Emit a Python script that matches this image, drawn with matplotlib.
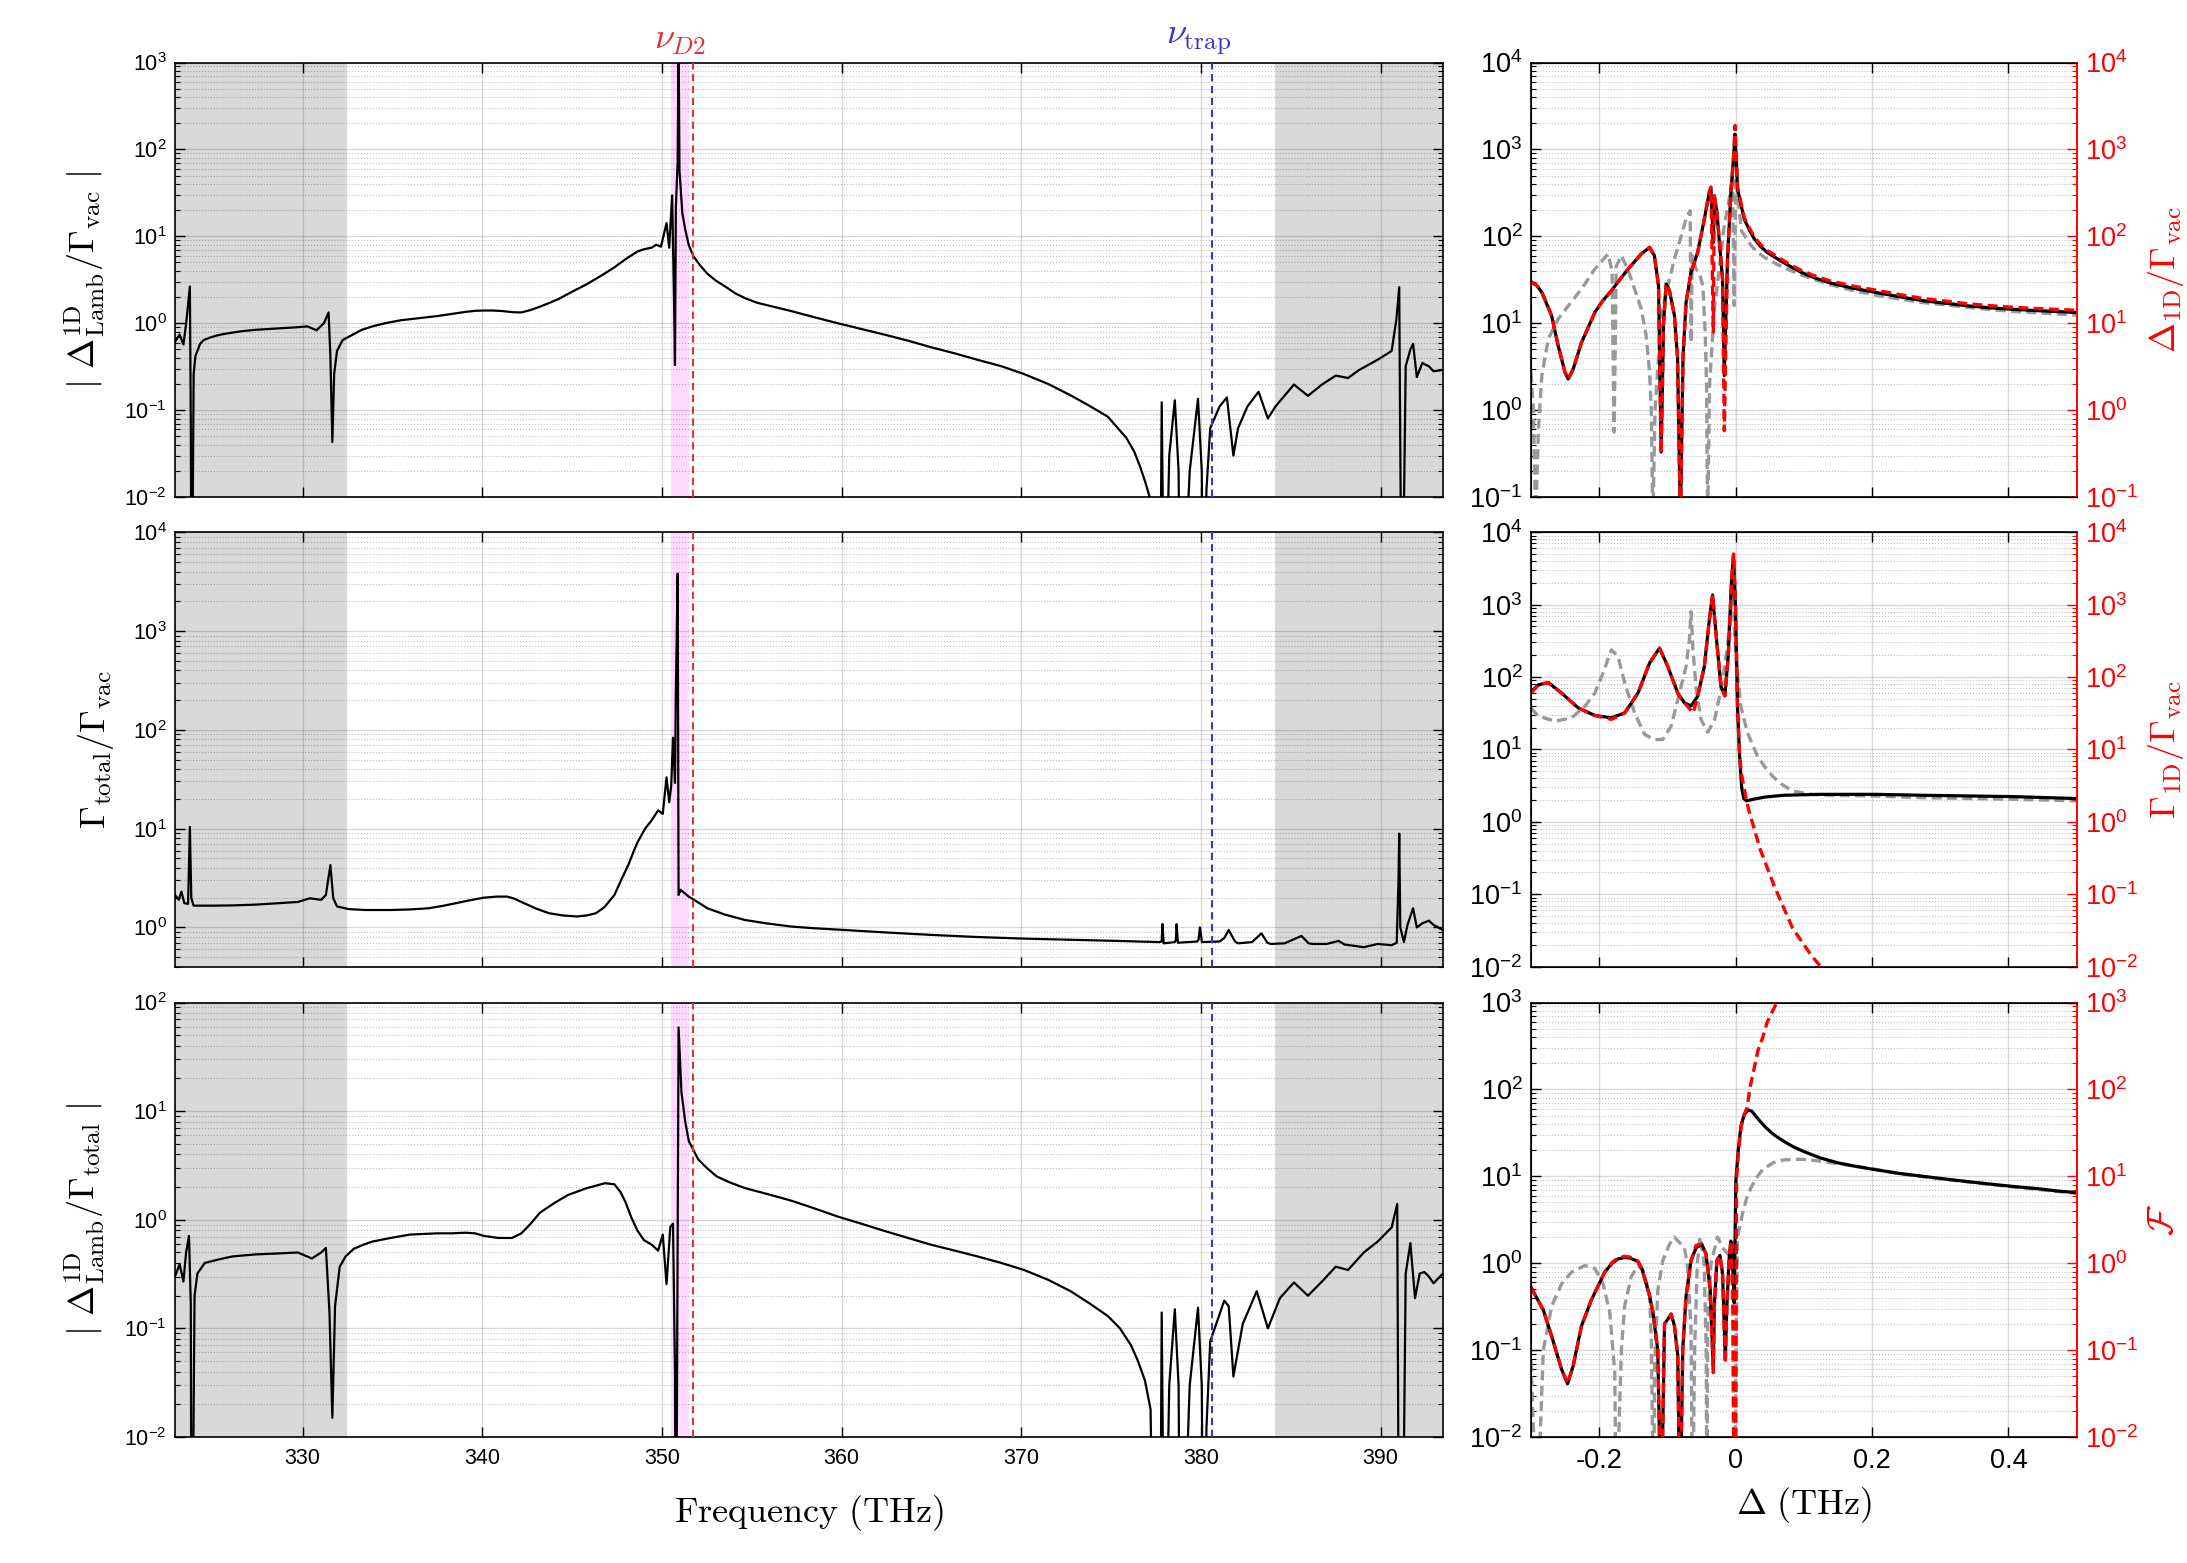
import numpy as np
import matplotlib
matplotlib.use('Agg')
import matplotlib.pyplot as plt
from matplotlib.ticker import LogLocator, NullFormatter
from matplotlib.transforms import blended_transform_factory

plt.rcParams['font.family'] = ['Liberation Sans', 'DejaVu Sans']
plt.rcParams['mathtext.fontset'] = 'cm'
plt.rcParams['axes.unicode_minus'] = False

# ---------------- left column: frequency scans (THz) ----------------
freq_lim = [322.9, 393.5]
freq_ticks = [330, 340, 350, 360, 370, 380, 390]
band_gap = [332.5, 384.1]          # outside this range the band is shaded grey
pink_band = [350.5, 351.5]
nu_d2 = 351.72
nu_trap = 380.6

freq_top = [322.9, 323.16, 323.37, 323.52, 323.73, 323.78, 323.83, 323.94, 324.04, 324.30,
            324.5, 324.82, 325.2, 325.6, 326.1, 326.63, 327.4, 328.19, 329.0, 329.74,
            330.26, 330.78, 331.19, 331.45, 331.55, 331.66, 331.76, 331.92, 332.23, 332.85,
            333.3, 333.89, 334.6, 335.44, 336.4, 337.51, 338.3, 339.07, 339.6, 340.10,
            340.6, 341.14, 341.7, 342.18, 342.7, 343.21, 343.7, 344.25, 345.0, 345.80,
            346.6, 347.36, 348.0, 348.65, 349.0, 349.43, 349.69, 349.95, 350.26, 350.41,
            350.57, 350.67, 350.73, 350.78, 350.88, 350.93, 350.98, 351.14, 351.3, 351.50,
            351.76, 352.1, 352.54, 353.0, 353.58, 354.1, 354.61, 355.3, 356.2, 357.2,
            358.5, 359.79, 361.1, 362.38, 363.7, 364.97, 366.3, 367.56, 368.9, 370.16,
            371.5, 372.75, 373.8, 374.82, 375.85, 376.3, 376.63, 376.9, 377.15, 377.41,
            377.72, 377.82, 377.98, 378.24, 378.55, 378.76, 378.86, 379.38, 379.84, 380.05,
            380.16, 380.31, 380.52, 381.04, 381.45, 381.81, 382.07, 382.59, 383.21, 383.73,
            384.15, 385.18, 385.96, 386.74, 387.51, 388.19, 388.81, 389.84, 390.62, 390.88,
            391.04, 391.09, 391.19, 391.40, 391.66, 391.81, 392.02, 392.33, 392.54, 392.69,
            392.95, 393.47]
lamb_vac = [0.61, 0.74, 0.57, 0.98, 2.65, 0.076, 1e-4, 0.26, 0.42, 0.58,
            0.64, 0.68, 0.72, 0.75, 0.78, 0.81, 0.84, 0.86, 0.88, 0.9,
            0.92, 0.83, 1.0, 1.33, 0.42, 0.043, 0.26, 0.48, 0.64, 0.75,
            0.84, 0.92, 1.0, 1.08, 1.14, 1.21, 1.28, 1.35, 1.39, 1.40,
            1.40, 1.38, 1.34, 1.33, 1.42, 1.55, 1.7, 1.9, 2.3, 2.8,
            3.5, 4.4, 5.5, 6.7, 7.1, 7.4, 8.0, 7.6, 14.2, 7.4,
            29.6, 2.3, 0.33, 22, 73, 2000, 57, 18.5, 12, 7.9,
            5.9, 4.7, 3.7, 3.1, 2.6, 2.2, 1.95, 1.72, 1.55, 1.38,
            1.17, 1.0, 0.86, 0.74, 0.63, 0.53, 0.45, 0.38, 0.32, 0.26,
            0.2, 0.148, 0.112, 0.084, 0.048, 0.033, 0.022, 0.015, 0.01, 1e-4,
            1e-4, 0.123, 1e-4, 0.03, 0.13, 0.02, 1e-4, 0.02, 0.135, 0.02,
            1e-4, 0.012, 0.062, 0.11, 0.14, 0.03, 0.062, 0.11, 0.163, 0.08,
            0.11, 0.197, 0.146, 0.197, 0.25, 0.234, 0.29, 0.38, 0.48, 1.1,
            2.6, 0.068, 1e-4, 0.32, 0.5, 0.58, 0.24, 0.35, 0.33, 0.32,
            0.28, 0.29]

freq_mid = [322.90, 323.11, 323.26, 323.42, 323.63, 323.73, 323.81, 323.94, 325.0, 326.11,
            327.4, 328.70, 329.74, 330.41, 331.04, 331.30, 331.55, 331.71, 331.92, 332.59,
            333.5, 334.92, 336.0, 336.99, 337.8, 338.55, 339.3, 340.10, 340.8, 341.40,
            341.8, 342.18, 343.0, 343.73, 344.5, 345.28, 345.8, 346.32, 346.8, 347.36,
            347.8, 348.13, 348.4, 348.65, 349.07, 349.43, 349.79, 350.05, 350.26, 350.41,
            350.52, 350.62, 350.73, 350.78, 350.88, 350.93, 351.04, 351.5, 352.0, 352.54,
            353.5, 354.61, 355.8, 357.20, 358.5, 359.79, 362.4, 364.97, 367.5, 370.16,
            372.7, 375.34, 377.67, 377.82, 377.86, 377.93, 378.55, 378.61, 378.65, 378.72,
            379.80, 379.87, 379.95, 380.06, 381.04, 381.30, 381.55, 381.90, 382.07, 382.85,
            383.37, 383.70, 383.89, 384.66, 385.60, 386.00, 386.22, 387.00, 387.67, 388.00,
            388.29, 389.07, 389.84, 390.62, 390.90, 391.00, 391.04, 391.10, 391.30, 391.50,
            391.81, 392.02, 392.33, 392.69, 392.95, 393.47]
gamma_total = [2.13, 1.9, 2.3, 1.76, 1.73, 10.4, 1.98, 1.66, 1.66, 1.67,
               1.7, 1.76, 1.81, 1.97, 1.9, 2.13, 4.27, 1.97, 1.63, 1.53,
               1.5, 1.5, 1.52, 1.56, 1.65, 1.76, 1.88, 2.0, 2.05, 2.05,
               1.95, 1.81, 1.55, 1.39, 1.32, 1.29, 1.32, 1.39, 1.6, 2.13,
               3.2, 4.27, 5.7, 7.3, 10, 12.1, 15.3, 14.1, 33, 18.5,
               27, 83, 29, 245, 3800, 2.13, 2.4, 2.05, 1.8, 1.56,
               1.35, 1.19, 1.1, 1.02, 0.98, 0.95, 0.89, 0.84, 0.8, 0.77,
               0.75, 0.73, 0.71, 0.72, 1.08, 0.69, 0.71, 0.75, 1.08, 0.70,
               0.72, 0.75, 1.0, 0.71, 0.72, 0.78, 0.94, 0.72, 0.69, 0.71,
               0.87, 0.70, 0.68, 0.69, 0.82, 0.69, 0.68, 0.68, 0.73, 0.67,
               0.66, 0.63, 0.68, 0.66, 0.70, 3.0, 8.9, 1.0, 0.71, 1.06,
               1.56, 1.0, 1.1, 1.17, 1.06, 0.94]

freq_bot = [322.90, 323.16, 323.37, 323.52, 323.68, 323.78, 323.83, 323.99, 324.15, 324.56,
            325.3, 326.11, 327.4, 328.70, 329.74, 330.52, 331.04, 331.30, 331.50, 331.66,
            331.81, 332.07, 332.4, 332.85, 333.4, 333.89, 334.9, 335.96, 336.7, 337.51,
            338.3, 339.07, 339.6, 340.10, 340.9, 341.66, 342.18, 342.7, 343.21, 344.0,
            344.77, 345.8, 346.84, 347.36, 347.7, 347.98, 348.3, 348.65, 349.0, 349.43,
            349.79, 350.05, 350.26, 350.47, 350.62, 350.73, 350.78, 350.93, 351.09, 351.3,
            351.50, 352.02, 352.5, 353.06, 353.8, 354.61, 355.9, 357.20, 358.5, 359.79,
            361.1, 362.38, 363.7, 364.97, 366.3, 367.56, 368.9, 370.16, 371.5, 372.75,
            373.8, 374.82, 375.5, 376.11, 376.5, 376.89, 377.2, 377.41, 377.72, 377.82,
            377.98, 378.24, 378.55, 378.76, 378.86, 379.38, 379.84, 380.05, 380.16, 380.31,
            380.52, 381.30, 381.55, 381.81, 382.33, 383.11, 383.73, 384.40, 385.18, 385.96,
            386.74, 387.51, 388.19, 389.07, 389.84, 390.62, 390.93, 391.04, 391.19, 391.40,
            391.66, 391.92, 392.18, 392.44, 392.69, 392.95, 393.47]
lamb_total = [0.30, 0.39, 0.27, 0.50, 0.71, 0.17, 1e-4, 0.2, 0.32, 0.40,
              0.43, 0.46, 0.48, 0.49, 0.5, 0.44, 0.5, 0.55, 0.14, 0.015,
              0.16, 0.37, 0.46, 0.54, 0.59, 0.63, 0.68, 0.73, 0.74, 0.75,
              0.75, 0.76, 0.75, 0.71, 0.68, 0.68, 0.75, 0.92, 1.16, 1.42,
              1.69, 1.95, 2.17, 2.12, 1.8, 1.45, 1.05, 0.79, 0.65, 0.59,
              0.52, 0.73, 0.255, 0.86, 0.92, 0.041, 1e-4, 59, 15, 8,
              5.3, 3.6, 3.0, 2.5, 2.2, 1.96, 1.72, 1.5, 1.27, 1.07,
              0.92, 0.79, 0.68, 0.59, 0.52, 0.46, 0.4, 0.345, 0.28, 0.22,
              0.17, 0.13, 0.1, 0.07, 0.05, 0.033, 0.018, 1e-4, 1e-4, 0.14,
              1e-4, 0.03, 0.15, 0.03, 1e-4, 0.03, 0.155, 0.03, 1e-4, 0.012,
              0.076, 0.18, 0.16, 0.036, 0.11, 0.22, 0.10, 0.19, 0.265, 0.2,
              0.27, 0.37, 0.345, 0.5, 0.63, 0.85, 1.4, 1e-4, 1e-4, 0.32,
              0.61, 0.19, 0.32, 0.33, 0.30, 0.26, 0.32]

# ---------------- right column: detuning scans (THz) ----------------
det_lim = [-0.3, 0.5]
det_ticks = [-0.2, 0, 0.2, 0.4]
det_tick_labels = ['-0.2', '0', '0.2', '0.4']

det_shift_k = [-0.300, -0.292, -0.284, -0.2696, -0.260, -0.250, -0.2453, -0.238, -0.2258, -0.2063,
               -0.195, -0.182, -0.1577, -0.1382, -0.126, -0.119, -0.1129, -0.109, -0.1055, -0.1017,
               -0.097, -0.0895, -0.085, -0.0808, -0.077, -0.0725, -0.0652, -0.0555, -0.0457, -0.0384,
               -0.036, -0.0326, -0.0311, -0.0273, -0.0224, -0.019, -0.0165, -0.0117, -0.0068, -0.003,
               -0.0007, 0.003, 0.0127, 0.02, 0.0273, 0.037, 0.0467, 0.06, 0.0759, 0.095,
               0.115, 0.1381, 0.17, 0.2061, 0.24, 0.2741, 0.31, 0.3422, 0.375, 0.4102,
               0.455, 0.5]
shift_k = [30, 27.5, 22.7, 12.2, 5.5, 2.72, 2.28, 2.97, 6.0, 13.3,
           18, 23.7, 42, 62.6, 74.6, 60, 27, 0.33, 10, 28.3,
           24, 12.2, 4, 0.05, 4, 17.4, 38.5, 65.5, 158, 321,
           350, 85, 293, 189, 65.5, 32, 2.5, 55, 320, 780,
           1500, 350, 158, 120, 94, 76, 65, 56, 47, 39,
           33.5, 29.2, 25.5, 22.6, 20.2, 18.2, 16.9, 15.8, 15.0, 14.4,
           13.8, 13.3]
shift_r = [30, 27.5, 22.7, 12.2, 5.5, 2.72, 2.28, 2.97, 6.0, 13.3,
           18, 23.7, 42, 62.6, 74.6, 60, 27, 0.32, 10, 28.3,
           24, 12.2, 4, 0.05, 4, 17.4, 38.5, 65.5, 158, 330,
           370, 7.9, 300, 189, 65.5, 32, 0.58, 55, 320, 800,
           1880, 370, 165, 126, 99, 80, 68.5, 59, 49.5, 41,
           35.3, 30.8, 27, 24, 21.4, 19.3, 17.9, 16.7, 15.9, 15.2,
           14.6, 14.1]
det_shift_g = [-0.300, -0.2964, -0.293, -0.289, -0.284, -0.2745, -0.260, -0.245, -0.2258, -0.2063,
               -0.1869, -0.181, -0.178, -0.175, -0.1674, -0.158, -0.148, -0.1382, -0.131, -0.126,
               -0.1235, -0.1212, -0.118, -0.109, -0.0993, -0.0895, -0.0798, -0.0711, -0.0665, -0.065,
               -0.0635, -0.058, -0.053, -0.048, -0.0445, -0.0425, -0.0409, -0.038, -0.031, -0.0238,
               -0.0165, -0.0092, -0.0044, -0.002, 0.0005, 0.0088, 0.016, 0.0224, 0.032, 0.0429,
               0.06, 0.0759, 0.1, 0.1381, 0.17, 0.2061, 0.24, 0.2741, 0.31, 0.3422,
               0.375, 0.4102, 0.455, 0.5]
shift_g = [2.7, 1.03, 0.05, 0.6, 2.5, 6.6, 11.2, 15.9, 24.8, 42,
           62.5, 40, 0.56, 45, 60, 42, 24.8, 14.6, 7.2, 2.7,
           1.0, 0.05, 1.0, 12.2, 27, 55, 100, 173, 197, 6.0,
           60, 42, 38, 27, 8, 2, 0.05, 2, 14.6, 42,
           132, 270, 500, 16, 460, 115, 95, 79, 66, 57,
           48, 42, 35, 27.9, 24, 21, 19, 17.3, 16.2, 15.2,
           14.3, 13.6, 13.0, 12.4]

det_rate_k = [-0.300, -0.289, -0.2745, -0.255, -0.2307, -0.2063, -0.182, -0.1625, -0.143, -0.126,
              -0.1114, -0.0993, -0.0847, -0.0749, -0.0652, -0.0555, -0.0457, -0.0384, -0.0336, -0.0287,
              -0.0214, -0.0156, -0.0107, -0.0058, -0.0029, 0.0, 0.0029, 0.006, 0.009, 0.012,
              0.016, 0.026, 0.043, 0.07, 0.1245, 0.2061, 0.2741, 0.3422, 0.4102, 0.5]
rate_k = [62, 78, 84, 60, 37.5, 29.5, 27.3, 32, 60, 156,
          251, 140, 60, 44, 40, 54, 140, 615, 1360, 404,
          74, 55, 192, 2190, 4820, 938, 39, 8, 3.0, 2.1,
          1.95, 2.05, 2.2, 2.33, 2.4, 2.4, 2.33, 2.28, 2.23, 2.1]
det_rate_r = [-0.300, -0.289, -0.2745, -0.255, -0.2307, -0.2063, -0.182, -0.1625, -0.143, -0.126,
              -0.1114, -0.0993, -0.0847, -0.0749, -0.062, -0.0555, -0.0457, -0.0384, -0.0336, -0.0287,
              -0.0214, -0.0156, -0.0107, -0.0058, -0.0029, 0.0, 0.0029, 0.006, 0.009, 0.0129,
              0.019, 0.0361, 0.0565, 0.0837, 0.1109, 0.1313]
rate_r = [60, 78, 84, 60, 37.5, 29.5, 26, 32, 60, 156,
          251, 140, 60, 44, 32, 54, 140, 615, 1380, 404,
          74, 55, 192, 2190, 5000, 938, 39, 8, 4.5, 2.8,
          1.5, 0.42, 0.132, 0.034, 0.0144, 0.0085]
det_rate_g = [-0.300, -0.289, -0.2647, -0.2404, -0.2209, -0.2063, -0.1942, -0.182, -0.1723, -0.1625,
              -0.148, -0.1333, -0.1187, -0.1066, -0.0944, -0.0822, -0.0725, -0.0676, -0.0652, -0.0625,
              -0.058, -0.0506, -0.0409, -0.031, -0.0214, -0.0117, -0.0044, 0.0005, 0.0078, 0.0175,
              0.0321, 0.045, 0.0565, 0.07, 0.0837, 0.1109, 0.1381, 0.2061, 0.2741, 0.4102,
              0.5]
rate_g = [37.5, 28.8, 24.6, 27.3, 39.5, 60, 114, 238, 192, 83,
          32, 16.1, 13.7, 13.7, 20.9, 60, 140, 327, 800, 250,
          74, 25.9, 17.3, 25, 67, 264, 1585, 192, 39.5, 17,
          8.1, 5.4, 4.07, 3.2, 2.67, 2.4, 2.33, 2.27, 2.16, 2.05,
          1.95]

det_fom_k = [-0.300, -0.2818, -0.2696, -0.255, -0.2462, -0.238, -0.2258, -0.2112, -0.1917, -0.181,
             -0.1723, -0.163, -0.1552, -0.143, -0.137, -0.131, -0.126, -0.121, -0.114, -0.109,
             -0.1041, -0.0944, -0.0895, -0.0847, -0.0813, -0.0774, -0.0725, -0.0652, -0.058, -0.0496,
             -0.0433, -0.037, -0.0326, -0.0311, -0.0273, -0.0229, -0.019, -0.015, -0.0127, -0.0092,
             -0.0068, -0.004, -0.002, 0.0005, 0.004, 0.008, 0.013, 0.019, 0.024, 0.03,
             0.036, 0.045, 0.0565, 0.07, 0.084, 0.1, 0.124, 0.15, 0.172, 0.2,
             0.24, 0.275, 0.308, 0.34, 0.376, 0.41, 0.444, 0.47, 0.5]
fom_k = [0.53, 0.29, 0.145, 0.06, 0.041, 0.066, 0.19, 0.38, 0.79, 1.0,
         1.12, 1.16, 1.15, 1.05, 0.85, 0.58, 0.42, 0.27, 0.1, 1e-3,
         0.2, 0.26, 0.19, 0.086, 1e-3, 0.1, 0.42, 1.07, 1.5, 1.66,
         1.28, 0.49, 0.06, 0.32, 1.07, 1.23, 0.76, 0.079, 0.32, 1.17,
         1.8, 0.9, 0.35, 9, 20, 38, 52, 58, 56, 49,
         43, 36, 30, 25.5, 22, 19.3, 16.3, 14.3, 13.2, 12.1,
         10.8, 10, 9.3, 8.7, 8.1, 7.6, 7.2, 6.8, 6.5]
det_fom_r = [-0.300, -0.2818, -0.2696, -0.255, -0.2462, -0.238, -0.2258, -0.2112, -0.1917, -0.181,
             -0.1723, -0.163, -0.1552, -0.143, -0.137, -0.131, -0.126, -0.121, -0.114, -0.109,
             -0.1041, -0.0944, -0.0895, -0.0847, -0.0813, -0.0774, -0.0725, -0.0652, -0.058, -0.0496,
             -0.0433, -0.037, -0.0326, -0.0311, -0.0273, -0.0229, -0.019, -0.015, -0.0127, -0.0092,
             -0.0068, -0.004, -0.002, 0.0, 0.0015, 0.0045, 0.0085, 0.013, 0.017, 0.021,
             0.027, 0.0327, 0.04, 0.0463, 0.053, 0.060, 0.066, 0.072]
fom_r = [0.53, 0.29, 0.145, 0.06, 0.041, 0.066, 0.19, 0.38, 0.79, 1.02,
         1.15, 1.2, 1.18, 1.05, 0.85, 0.58, 0.42, 0.27, 0.1, 1e-3,
         0.2, 0.26, 0.19, 0.086, 1e-3, 0.1, 0.42, 1.07, 1.6, 1.66,
         1.28, 0.49, 0.055, 0.32, 1.07, 1.23, 0.76, 0.07, 0.32, 1.17,
         1.8, 0.5, 1e-3, 1e-3, 9, 20, 38, 52, 62, 103,
         170, 277, 400, 590, 760, 980, 1200, 1500]
det_fom_g = [-0.300, -0.291, -0.2818, -0.2696, -0.255, -0.2404, -0.2209, -0.2063, -0.1941, -0.1844,
             -0.177, -0.175, -0.1674, -0.1626, -0.1528, -0.1431, -0.1358, -0.126, -0.1235, -0.120,
             -0.1187, -0.1139, -0.1066, -0.0968, -0.0895, -0.0749, -0.0701, -0.0652, -0.063, -0.060,
             -0.056, -0.052, -0.046, -0.043, -0.042, -0.0409, -0.036, -0.0263, -0.019, -0.012,
             -0.0068, -0.004, -0.002, 0.0029, 0.0102, 0.016, 0.0224, 0.03, 0.04, 0.055,
             0.07, 0.088, 0.105, 0.12, 0.138, 0.17, 0.206, 0.24, 0.274, 0.308,
             0.342, 0.376, 0.41, 0.455, 0.5]
fom_g = [0.075, 1e-3, 0.1, 0.32, 0.58, 0.79, 0.94, 0.87, 0.58, 0.27,
         0.056, 1e-3, 0.1, 0.32, 0.7, 0.94, 0.83, 0.45, 0.13, 1e-3,
         0.066, 0.49, 1.07, 1.66, 2.0, 1.5, 0.9, 0.17, 1e-3, 0.1,
         1.0, 2.0, 1.0, 0.1, 1e-3, 0.2, 1.0, 2.0, 1.5, 1.3,
         1.17, 0.3, 1e-3, 2.0, 3.7, 5.5, 7.3, 9.5, 12, 14.3,
         15.4, 15.7, 15.6, 15.1, 14.4, 13.3, 12.0, 10.7, 9.9, 9.2,
         8.6, 8.0, 7.5, 6.9, 6.35]

# ---------------- colours ----------------
shade_gray = '#d9d9d9'
pink = '#ffd9ff'
red_line = '#e2323c'
blue_line = '#3535cc'
dash_gray = '#999999'

LABEL_FS = 26
LEFT_TICK_FS = 15.5
RIGHT_TICK_FS = 19.5


def log_ticks(ax, ylim, fs, color='k'):
    ax.set_yscale('log')
    ax.set_ylim(ylim)
    ax.yaxis.set_major_locator(LogLocator(base=10, numticks=20))
    ax.yaxis.set_minor_locator(LogLocator(base=10, subs=np.arange(2, 10), numticks=20))
    ax.yaxis.set_minor_formatter(NullFormatter())
    ax.tick_params(axis='y', which='both', direction='in', colors=color, labelsize=fs, pad=6)
    ax.tick_params(which='major', length=7, width=1.0)
    ax.tick_params(which='minor', length=3.5, width=0.8)


def grid_on(ax):
    ax.set_axisbelow('line')
    ax.grid(True, which='major', color='k', alpha=0.15, lw=1.0)
    ax.grid(True, which='minor', axis='y', color='k', alpha=0.25, lw=0.8, ls=':')


def left_panel(ax, x, y, ylim, ylabel, show_xlabels):
    ax.set_xlim(freq_lim)
    log_ticks(ax, ylim, LEFT_TICK_FS)
    ax.tick_params(which='both', top=True, right=True)
    ax.tick_params(axis='x', direction='in', labelsize=LEFT_TICK_FS, pad=8)
    ax.set_xticks(freq_ticks)
    if not show_xlabels:
        ax.set_xticklabels([])
    grid_on(ax)
    ax.axvspan(freq_lim[0], band_gap[0], color=shade_gray, lw=0, zorder=0.5)
    ax.axvspan(band_gap[1], freq_lim[1], color=shade_gray, lw=0, zorder=0.5)
    ax.axvspan(pink_band[0], pink_band[1], color=pink, lw=0, zorder=0.6)
    ax.axvline(nu_d2, color=red_line, lw=1.5, ls=(0, (3.5, 2.2)), zorder=3)
    ax.axvline(nu_trap, color=blue_line, lw=1.5, ls=(0, (3.5, 2.2)), zorder=3)
    ax.plot(x, y, color='k', lw=1.6, zorder=2)
    ax.set_ylabel(ylabel, fontsize=LABEL_FS, labelpad=12)
    for s in ax.spines.values():
        s.set_linewidth(1.2)


def right_panel(ax, xk, yk, xg, yg, xr, yr, ylim, rlabel, show_xlabels):
    ax.set_xlim(det_lim)
    log_ticks(ax, ylim, RIGHT_TICK_FS)
    ax.tick_params(which='both', top=True, right=False)
    ax.tick_params(axis='x', direction='in', labelsize=RIGHT_TICK_FS, pad=8)
    ax.set_xticks(det_ticks, det_tick_labels)
    if not show_xlabels:
        ax.set_xticklabels([])
    grid_on(ax)
    ax.plot(xg, yg, color=dash_gray, lw=2.4, ls=(0, (3, 1.6)), zorder=2)
    ax.plot(xk, yk, color='k', lw=2.3, zorder=2.2)
    ax2 = ax.twinx()
    log_ticks(ax2, ylim, RIGHT_TICK_FS, color='red')
    ax2.plot(xr, yr, color='red', lw=2.4, ls=(0, (3, 1.6)))
    ax2.set_ylabel(rlabel, fontsize=LABEL_FS, color='red', labelpad=6)
    for s in ax.spines.values():
        s.set_linewidth(1.2)
    ax2.spines['right'].set_color('red')
    ax2.spines['right'].set_linewidth(1.2)
    ax.spines['right'].set_color('red')
    return ax2


fig = plt.figure(figsize=(21.87, 15.63), dpi=100)
rows = [0.682, 0.3815, 0.0806]
h = 0.278
axL = [fig.add_axes([0.080, b, 0.580, h]) for b in rows]
axR = [fig.add_axes([0.700, b, 0.2495, h]) for b in rows]

left_panel(axL[0], freq_top, lamb_vac, [1e-2, 1e3],
           r'$|\ \Delta^{\rm 1D}_{\rm Lamb}/\Gamma_{\rm vac}\ |$', False)
left_panel(axL[1], freq_mid, gamma_total, [0.4, 1e4],
           r'$\Gamma_{\rm total}/\Gamma_{\rm vac}$', False)
left_panel(axL[2], freq_bot, lamb_total, [1e-2, 1e2],
           r'$|\ \Delta^{\rm 1D}_{\rm Lamb}/\Gamma_{\rm total}\ |$', True)
axL[2].set_xlabel(r'$\mathrm{Frequency\ (THz)}$', fontsize=LABEL_FS, labelpad=17)

trans = blended_transform_factory(axL[0].transData, axL[0].transAxes)
axL[0].text(351.0, 1.012, r'$\nu_{D2}$', transform=trans, color=red_line,
            fontsize=LABEL_FS, ha='center', va='bottom')
axL[0].text(379.9, 1.012, r'$\nu_{\rm trap}$', transform=trans, color=blue_line,
            fontsize=LABEL_FS, ha='center', va='bottom')

right_panel(axR[0], det_shift_k, shift_k, det_shift_g, shift_g, det_shift_k, shift_r,
            [1e-1, 1e4], r'$\Delta_{\rm 1D}/\Gamma_{\rm vac}$', False)
right_panel(axR[1], det_rate_k, rate_k, det_rate_g, rate_g, det_rate_r, rate_r,
            [1e-2, 1e4], r'$\Gamma_{\rm 1D}/\Gamma_{\rm vac}$', False)
right_panel(axR[2], det_fom_k, fom_k, det_fom_g, fom_g, det_fom_r, fom_r,
            [1e-2, 1e3], r'$\mathcal{F}$', True)
axR[2].set_xlabel(r'$\Delta\ \mathrm{(THz)}$', fontsize=LABEL_FS, labelpad=8)

fig.savefig('out.png', dpi=100)
